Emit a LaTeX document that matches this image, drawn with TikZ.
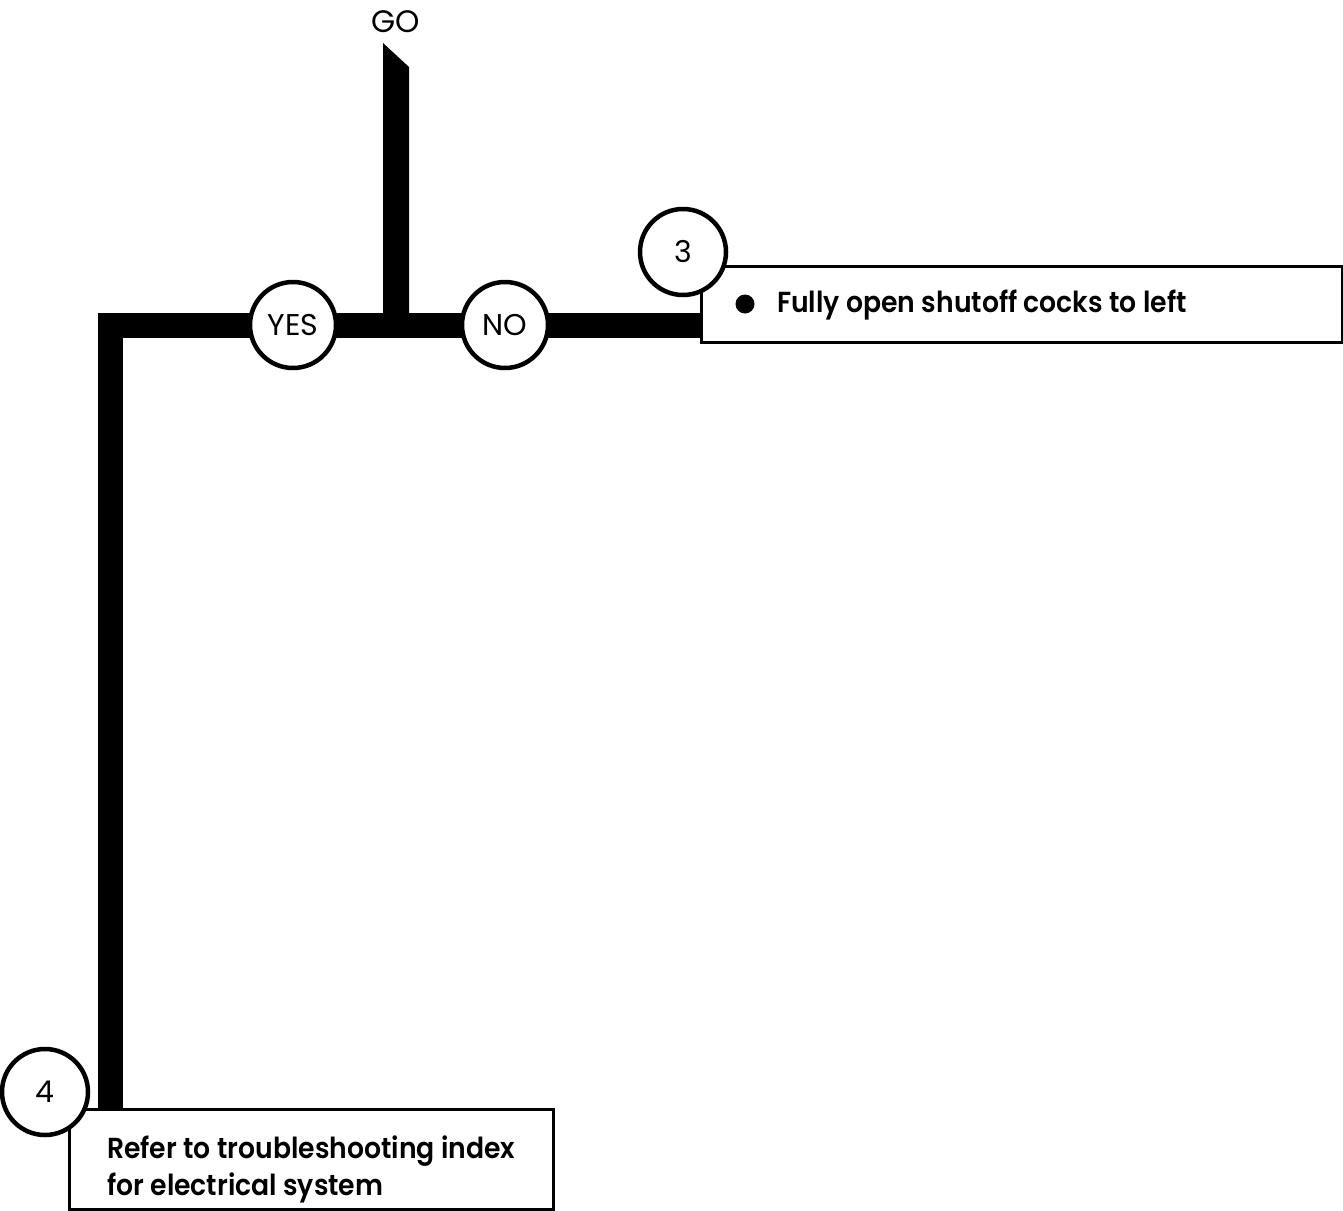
\documentclass[tikz,border=0pt]{standalone}
\usepackage{fontspec}
\setmainfont{Poppins}
\newfontfamily\medfont{Poppins}[UprightFont={* SemiBold},FakeStretch=0.92]
\usetikzlibrary{calc}
\pgfdeclarelayer{background}
\pgfsetlayers{background,main}
\begin{document}
\begin{tikzpicture}[x=1pt,y=-1pt,
  bar/.style={line width=25pt,line join=miter},
  ring/.style={circle,draw,line width=4.5pt,fill=white,minimum size=86pt,inner sep=0pt,font=\fontsize{30}{34}\selectfont},
  stepbox/.style={draw,line width=3pt,fill=white,inner sep=0pt},
  steptext/.style={anchor=west,inner sep=0pt,align=left,font=\medfont\fontsize{29}{37}\selectfont}]
\useasboundingbox (0,0) rectangle (1343,1210);
% label and junction
\node[font=\fontsize{31}{34}\selectfont,inner sep=0pt] (go) at (396,22) {GO};
\coordinate (gotop) at (396,43);
\coordinate (j) at (396,325);
\coordinate (cl) at (110,325);
% boxes
\node[stepbox,anchor=north west,minimum width=641pt,minimum height=76pt] (b3) at (700,265) {};
\node[stepbox,anchor=north west,minimum width=484pt,minimum height=100pt] (b4) at (68,1108) {};
% connectors (below boxes)
\begin{pgfonlayer}{background}
\fill ($(gotop)+(-13,0)$) -- ($(gotop)+(13,24)$) -- ($(j)+(13,0)$) -- ($(j)+(-13,0)$) -- cycle;
\draw[bar] (b4.north -| cl) -- (cl) -- (cl -| b3.west);
\end{pgfonlayer}
% texts
\fill (745,304) circle (9.5);
\node[steptext] (t3) at (777,305) {Fully open shutoff cocks to left};
\node[steptext,anchor=north west] (t4) at (107,1136) {Refer to troubleshooting index\\for electrical system};
% circles
\node[ring] (yes) at (293,325) {YES};
\node[ring] (no) at (505,325) {NO};
\node[ring] (c3) at (683,252) {3};
\node[ring] (c4) at (45,1092) {4};
\end{tikzpicture}
\end{document}
